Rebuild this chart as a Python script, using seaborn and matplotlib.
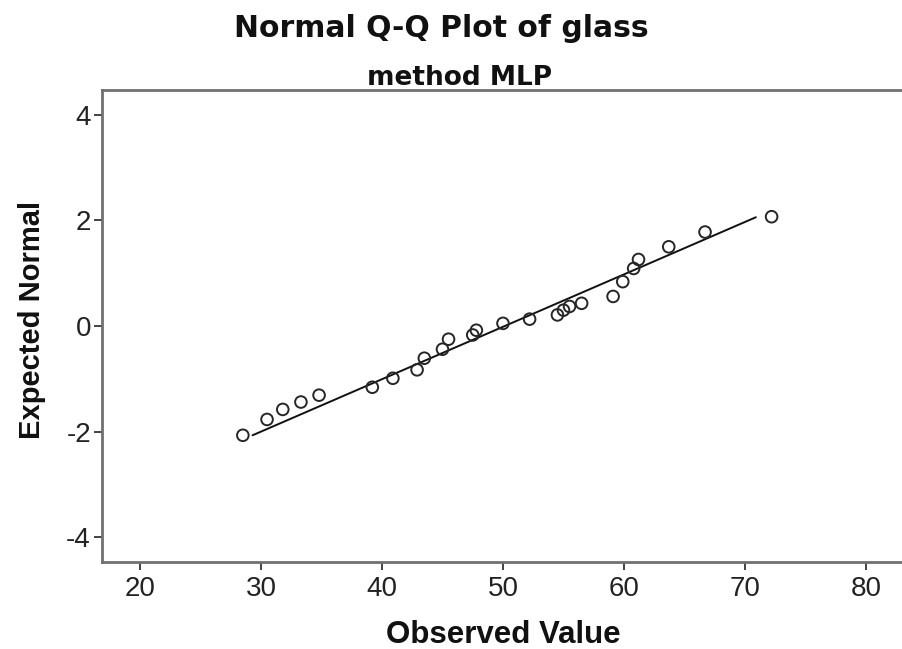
import matplotlib
matplotlib.use("Agg")
import matplotlib.pyplot as plt
import seaborn as sns
import pandas as pd

# Data
observed = [28.5, 30.5, 31.8, 33.3, 34.8, 39.2, 40.9, 42.9, 43.5, 45.0,
            45.5, 47.5, 47.8, 50.0, 52.2, 54.5, 55.0, 55.5, 56.5, 59.1,
            59.9, 60.8, 61.2, 63.7, 66.7, 72.2]
expected = [-2.07, -1.77, -1.58, -1.44, -1.31, -1.16, -0.99, -0.83, -0.61, -0.44,
            -0.25, -0.17, -0.08, 0.05, 0.13, 0.21, 0.30, 0.37, 0.43, 0.56,
            0.84, 1.09, 1.26, 1.50, 1.78, 2.07]
line_x = [29.3, 70.9]
line_y = [-2.07, 2.06]
x_ticks = [20, 30, 40, 50, 60, 70, 80]
y_ticks = [-4, -2, 0, 2, 4]

title = "Normal Q-Q Plot of glass"
subtitle = "method MLP"
x_label = "Observed Value"
y_label = "Expected Normal"

sns.set_style("white")
plt.rcParams['font.family'] = ['Liberation Sans', 'DejaVu Sans']
plt.rcParams['axes.unicode_minus'] = False

fig = plt.figure(figsize=(9.03, 6.49), dpi=100)
ax = fig.add_axes([102/903, 1-562/649, 1-102/903, (562-90)/649])

df = pd.DataFrame({"obs": observed, "exp": expected})
sns.lineplot(x=line_x, y=line_y, ax=ax, color="#111111", linewidth=1.4)
sns.scatterplot(data=df, x="obs", y="exp", ax=ax, marker="o", s=70,
                facecolor="none", edgecolor="#262626", linewidth=1.4, zorder=3)

ax.set_xlim(16.86, 83.06)
ax.set_ylim(-4.47, 4.47)
ax.set_xticks(x_ticks)
ax.set_yticks(y_ticks)
ax.set_xlabel("")
ax.set_ylabel("")
ax.tick_params(axis="both", labelsize=20, colors="#222222", length=6, width=1.2,
               direction="out", bottom=True, left=True)
ax.tick_params(axis="x", pad=4)
ax.tick_params(axis="y", pad=2)

for side in ["left", "top", "bottom"]:
    ax.spines[side].set_color("#707070")
    ax.spines[side].set_linewidth(2.0)
ax.spines["right"].set_visible(False)

fig.text(441/903, 1-37/649, title, ha="center", va="baseline",
         fontsize=21.5, fontweight="bold", color="#111111",
         family=["DejaVu Sans"])
fig.text(460/903, 1-85/649, subtitle, ha="center", va="baseline",
         fontsize=19, fontweight="bold", color="#111111",
         family=["DejaVu Sans"])
fig.text(503/903, 1-643/649, x_label, ha="center", va="baseline",
         fontsize=22.5, fontweight="bold", color="#111111")
fig.text(32/903, 1-320/649, y_label, ha="center", va="center", rotation=90,
         fontsize=21, fontweight="bold", color="#111111")

fig.savefig("out.png", dpi=100)
